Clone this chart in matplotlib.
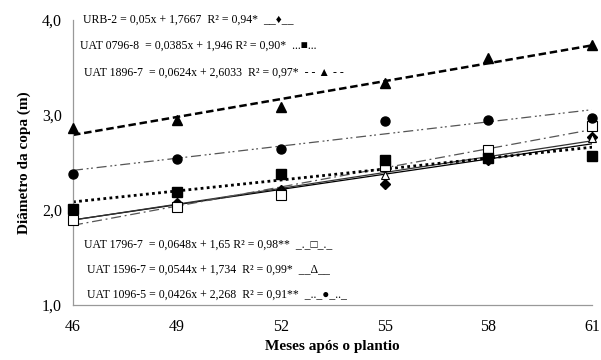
import numpy as np
import matplotlib
matplotlib.use("Agg")
import matplotlib.pyplot as plt

plt.rcParams['font.family'] = ['Liberation Serif', 'DejaVu Serif']

meses = [46, 49, 52, 55, 58, 61]

# diametro da copa (m) por clone
urb2 = [1.93, 2.07, 2.21, 2.27, 2.52, 2.77]
uat0796 = [2.01, 2.19, 2.38, 2.53, 2.55, 2.57]
uat1896 = [2.86, 2.95, 3.08, 3.33, 3.60, 3.74]
uat1796 = [1.89, 2.03, 2.16, 2.46, 2.63, 2.88]
uat1596 = [1.94, 2.04, 2.19, 2.37, 2.56, 2.76]
uat1096 = [2.38, 2.54, 2.64, 2.93, 2.95, 2.97]

eq_top = ["URB-2 = 0,05x + 1,7667  R² = 0,94*  __♦__",
          "UAT 0796-8  = 0,0385x + 1,946 R² = 0,90*  ...■...",
          "UAT 1896-7  = 0,0624x + 2,6033  R² = 0,97*  - - ▲ - -"]
eq_bottom = ["UAT 1796-7  = 0,0648x + 1,65 R² = 0,98**  _._□_._",
             "UAT 1596-7 = 0,0544x + 1,734  R² = 0,99*  __Δ__",
             "UAT 1096-5 = 0,0426x + 2,268  R² = 0,91**  _.._●_.._"]

fig = plt.figure(figsize=(6.01, 3.6), dpi=100)
ax = fig.add_axes([0.1215, 0.153, 0.864, 0.792])

series = [
    (urb2, dict(marker='D', ms=5, mfc='black', mec='black'), dict(ls='-', lw=0.9, color='black')),
    (uat1596, dict(marker='^', ms=6, mfc='white', mec='black', mew=0.8), dict(ls='-', lw=0.9, color='#333333')),
    (uat1796, dict(marker='s', ms=6.5, mfc='white', mec='black', mew=0.8), dict(ls=(0, (8, 3, 1.5, 3)), lw=0.9, color='#555555')),
    (uat1096, dict(marker='o', ms=6.5, mfc='black', mec='black'), dict(ls=(0, (8, 3, 1.5, 2, 1.5, 3)), lw=0.9, color='#555555')),
    (uat0796, dict(marker='s', ms=6.5, mfc='black', mec='black'), dict(ls=(0, (1, 1.2)), lw=2.0, color='black')),
    (uat1896, dict(marker='^', ms=7, mfc='black', mec='black'), dict(ls=(0, (3, 1.5)), lw=1.8, color='black')),
]

xs = np.array(meses, dtype=float)
for vals, mk, ln in series:
    a, b = np.polyfit(xs, vals, 1)
    ax.plot([xs[0], xs[-1]], [a * xs[0] + b, a * xs[-1] + b], zorder=2, **ln)
    ax.plot(xs, vals, ls='none', zorder=3, clip_on=False, **mk)

ax.set_xlim(46, 61)
ax.set_ylim(1, 4)
ax.set_xticks(meses)
ax.set_yticks([1, 2, 3, 4])
ax.set_yticklabels(['1,0', '2,0', '3,0', '4,0'])
ax.tick_params(length=0, labelsize=11.5, pad=8)
ax.tick_params(axis='x', pad=10)
for s in ['top', 'right']:
    ax.spines[s].set_visible(False)
for s in ['left', 'bottom']:
    ax.spines[s].set_color('#999999')
    ax.spines[s].set_linewidth(0.9)

ax.set_xlabel('Meses após o plantio', fontsize=11, fontweight='bold', labelpad=4)
ax.set_ylabel('Diâmetro da copa (m)', fontsize=11, fontweight='bold', labelpad=8)

top_x = [83, 80, 84]
top_y = [20, 46, 73]
for t, x, y in zip(eq_top, top_x, top_y):
    fig.text(x / 601, 1 - y / 360, t, fontsize=8.5, va='center', ha='left')
bot_x = [84, 87, 87]
bot_y = [245, 270, 295]
for t, x, y in zip(eq_bottom, bot_x, bot_y):
    fig.text(x / 601, 1 - y / 360, t, fontsize=8.5, va='center', ha='left')

fig.savefig('out.png', dpi=100)
